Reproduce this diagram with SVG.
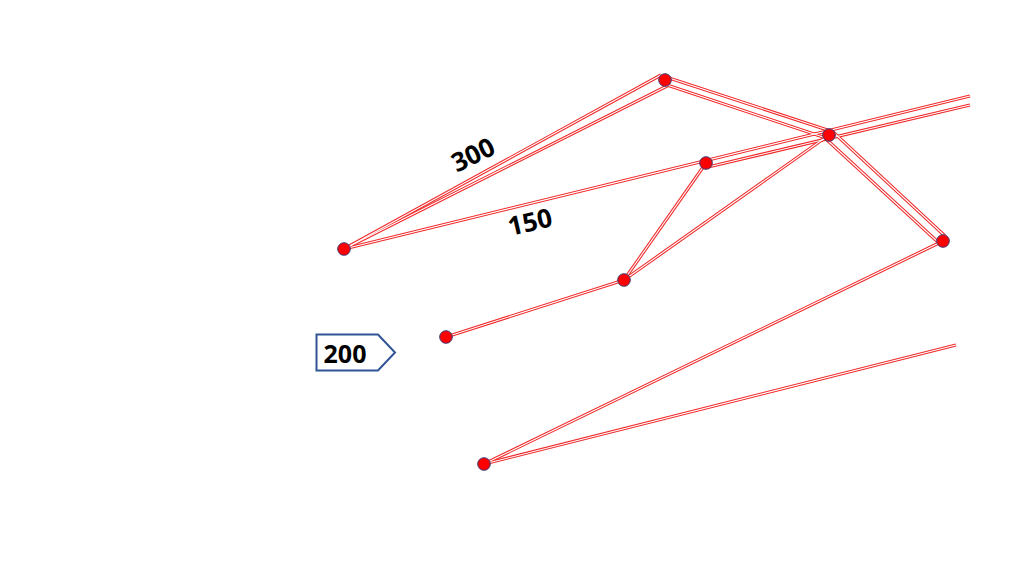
<svg xmlns="http://www.w3.org/2000/svg" width="1024" height="576" viewBox="0 0 1024 576">
<style>
.r{stroke:#f02828;stroke-width:3.2;fill:none;stroke-linecap:butt}
.w{stroke:#ffffff;stroke-width:1.1;fill:none}
.n{fill:#ff0000;stroke:#3a3a7a;stroke-width:1}
.t{font-family:"Open Sans","Liberation Sans",sans-serif;font-weight:bold;fill:#000}
</style>
<defs>
<g id="lines">
<line x1="344" y1="249" x2="661" y2="75"/>
<line x1="344" y1="249" x2="669" y2="85"/>
<line x1="663" y1="76" x2="829" y2="130.5"/>
<line x1="667" y1="85" x2="829" y2="139"/>
<line x1="344" y1="249" x2="970" y2="96"/>
<line x1="706" y1="167.5" x2="970" y2="105"/>
<line x1="832" y1="131" x2="945" y2="236"/>
<line x1="826" y1="139" x2="939" y2="243"/>
<line x1="829" y1="135" x2="624" y2="280"/>
<line x1="706" y1="163" x2="624" y2="280"/>
<line x1="446" y1="337" x2="624" y2="280"/>
<line x1="943" y1="241" x2="484" y2="464"/>
<line x1="484" y1="464" x2="956" y2="345"/>
</g>
</defs>
<rect width="1024" height="576" fill="#ffffff"/>
<g id="connectors">
<use href="#lines" class="r"/>
<use href="#lines" class="w"/>
</g>
<g id="label-300"><text class="t" font-size="26" transform="translate(477,163) rotate(-26)" text-anchor="middle">300</text></g>
<g id="label-150"><text class="t" font-size="26" transform="translate(532,231) rotate(-13)" text-anchor="middle">150</text></g>
<g id="node-A"><circle class="n" cx="344" cy="249" r="6.3"/></g>
<g id="node-B"><circle class="n" cx="665" cy="80" r="6.3"/></g>
<g id="node-C"><circle class="n" cx="829" cy="135" r="6.3"/></g>
<g id="node-D"><circle class="n" cx="706" cy="163" r="6.3"/></g>
<g id="node-E"><circle class="n" cx="624" cy="280" r="6.3"/></g>
<g id="node-F"><circle class="n" cx="943" cy="241" r="6.3"/></g>
<g id="node-G"><circle class="n" cx="446" cy="337" r="6.3"/></g>
<g id="node-H"><circle class="n" cx="484" cy="464" r="6.3"/></g>
<g id="tag-200">
<path d="M316.5,334.5 H378 L395,352.5 L378,370.5 H316.5 Z" fill="#ffffff" stroke="#2f5597" stroke-width="2"/>
<text class="t" font-size="25" x="345" y="363" text-anchor="middle">200</text>
</g>
</svg>
